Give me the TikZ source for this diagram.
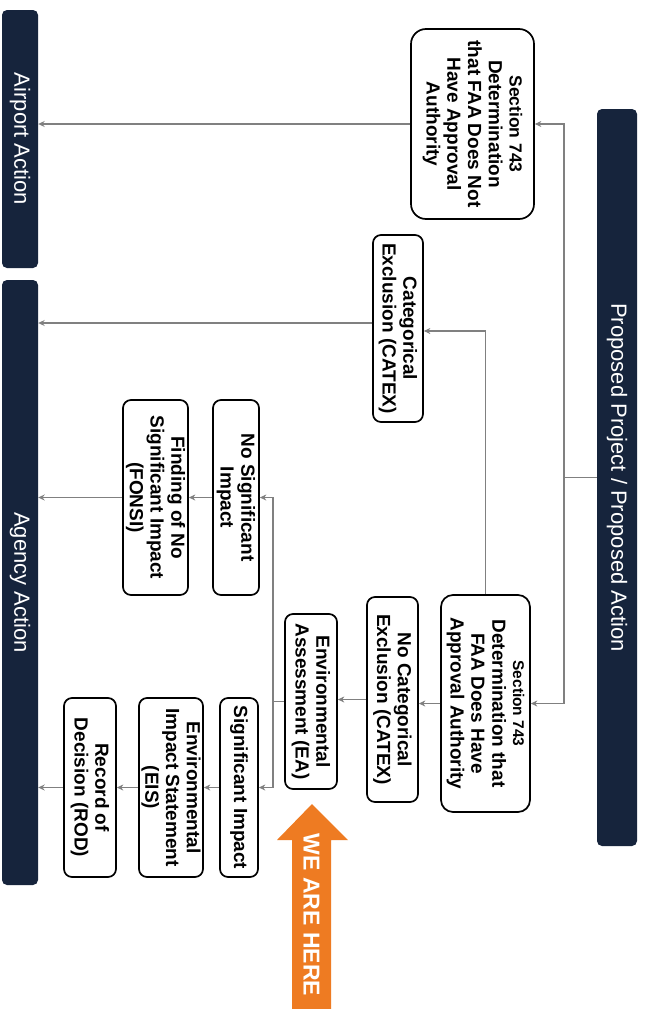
\documentclass[tikz,border=0pt]{standalone}
\usepackage{fontspec}
\setmainfont{Liberation Sans}
\usetikzlibrary{arrows.meta,calc}
\definecolor{navy}{RGB}{22,36,60}
\definecolor{weorange}{RGB}{238,123,34}
\definecolor{conngray}{RGB}{128,128,128}
\newcommand\boxfont{\bfseries\fontsize{19}{20.8}\selectfont}
\newcommand\secfonta{\fontsize{17.5}{20.8}\selectfont}
\newcommand\secfontb{\fontsize{15.5}{20.8}\selectfont}
\newcommand\barfont{\fontsize{22}{24}\selectfont}
\newcommand\herefont{\bfseries\fontsize{23}{24}\selectfont}
\tikzset{
  box/.style={draw=black, line width=1.7pt, rounded corners=8pt, rotate=-90, align=center, font=\boxfont, inner sep=0pt, fill=white},
  bar/.style={fill=navy, rounded corners=5pt, rotate=-90, text=white, font=\barfont, inner sep=0pt},
  conn/.style={draw=conngray, line width=1.7pt, -{Stealth[length=6.5pt,width=6pt]}},
}
\begin{document}
\begin{tikzpicture}[x=1pt,y=-1pt]
\useasboundingbox (0,0) rectangle (649,1009);
\fill[white] (0,0) rectangle (649,1009);

% bars
\node[bar, minimum width=258pt, minimum height=36pt] (airport) at (20,139) {Airport Action};
\node[bar, minimum width=605pt, minimum height=36pt] (agency) at (20,582.5) {Agency Action};
\node[bar, minimum width=737pt, minimum height=40pt] (prop) at (617,477.5) {Proposed Project / Proposed Action};

% boxes
\node[box, rounded corners=15pt, minimum width=190pt, minimum height=123pt] (s743n) at (472.5,124) {{\secfonta Section 743}\\Determination\\that FAA Does Not\\Have Approval\\Authority};
\node[box, minimum width=187pt, minimum height=50pt] (catex) at (398,328.5) {Categorical\\Exclusion (CATEX)};
\node[box, minimum width=195pt, minimum height=46pt] (nsi) at (236,497.5) {No Significant\\Impact};
\node[box, minimum width=195pt, minimum height=65pt] (fonsi) at (155.5,497.5) {Finding of No\\Significant Impact\\(FONSI)};
\node[box, rounded corners=12pt, minimum width=217pt, minimum height=89pt] (s743h) at (485.5,703.5) {{\secfontb Section 743}\\Determination that\\FAA Does Have\\Approval Authority};
\node[box, minimum width=205pt, minimum height=51pt] (ncatex) at (392.5,699.5) {No Categorical\\Exclusion (CATEX)};
\node[box, minimum width=175pt, minimum height=52pt] (ea) at (311,701.5) {Environmental\\Assessment (EA)};
\node[box, minimum width=179pt, minimum height=38pt] (sig) at (239,787.5) {Significant Impact};
\node[box, minimum width=179pt, minimum height=64pt] (eis) at (171,787.5) {Environmental\\Impact Statement\\(EIS)};
\node[box, minimum width=179pt, minimum height=52pt] (rod) at (90,787.5) {Record of\\Decision (ROD)};

% helper coordinates
\coordinate (trunk) at (564,0);
\coordinate (catexIn) at (0,331);
\coordinate (catexOut) at (0,323);
\coordinate (jx) at (273,0);

% connectors
\draw[conn] (prop.south) -- (prop.south -| trunk) |- (s743n.north);
\draw[conn] (prop.south -| trunk) |- (s743h.north);
\draw[conn] (s743n.south) -- (s743n.south -| airport.north);
\draw[conn] (s743h.west) |- (catex.north |- catexIn);
\draw[conn] (catex.south |- catexOut) -- (agency.north |- catexOut);
\draw[conn] (s743h.south) -- (s743h.south -| ncatex.north);
\draw[conn] (ncatex.south) -- (ncatex.south -| ea.north);
\draw[conn] (ea.south) -- (ea.south -| jx) |- (nsi.north);
\draw[conn] (ea.south -| jx) |- (sig.north);
\draw[conn] (nsi.south) -- (fonsi.north);
\draw[conn] (fonsi.south) -- (fonsi.south -| agency.north);
\draw[conn] (sig.south) -- (eis.north);
\draw[conn] (eis.south) -- (rod.north);
\draw[conn] (rod.south) -- (rod.south -| agency.north);

% WE ARE HERE arrow
\fill[weorange] (292,1009) -- (292,840) -- (277,840) -- (312,804) -- (348,840) -- (331,840) -- (331,1009) -- cycle;
\node[rotate=-90, text=white, font=\herefont, inner sep=0pt] (here) at (311.5,915) {WE ARE HERE};
\end{tikzpicture}
\end{document}
